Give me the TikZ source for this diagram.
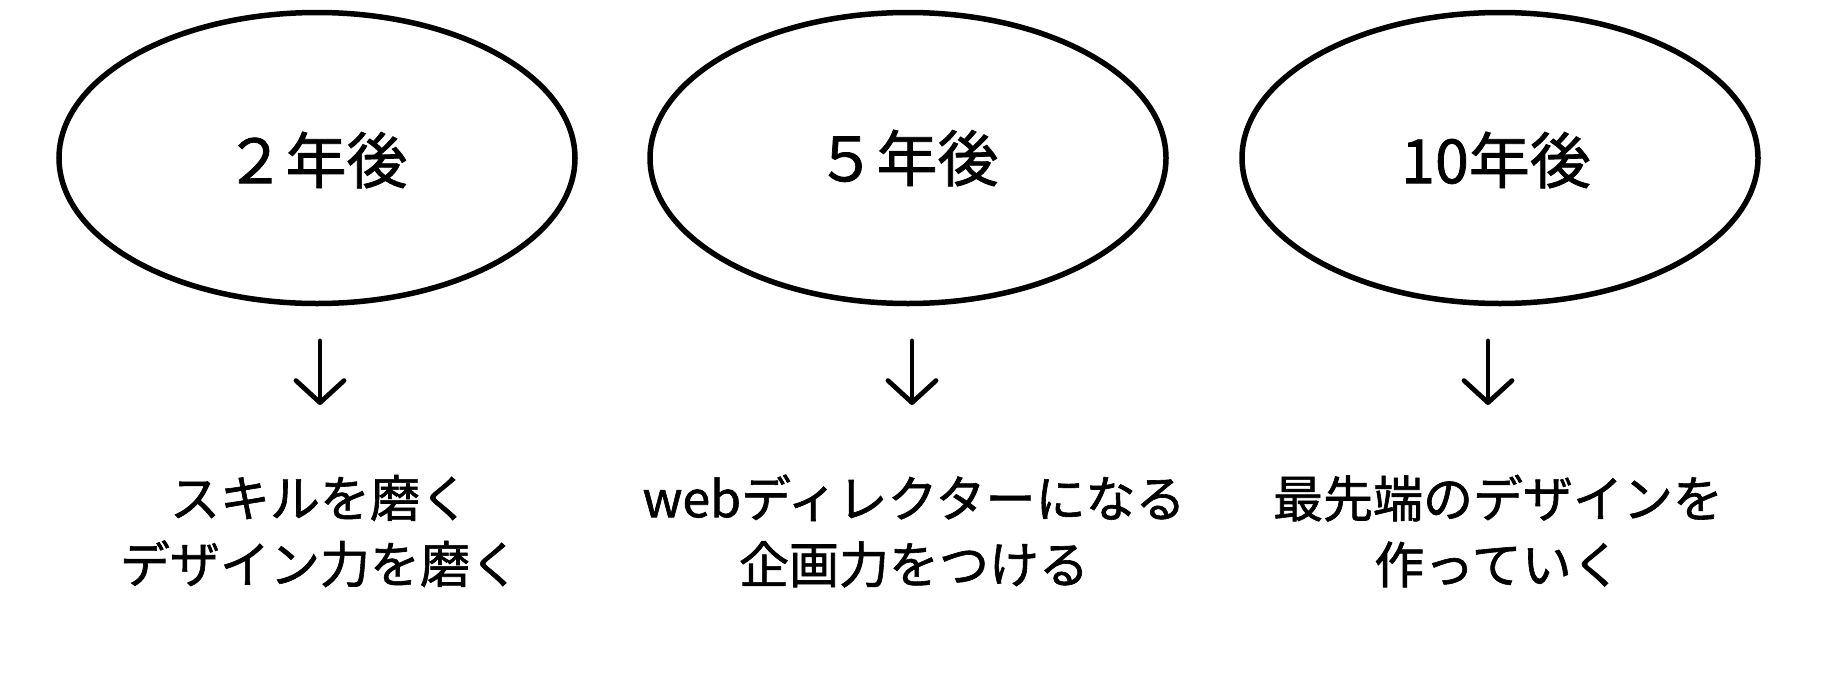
\documentclass[tikz,border=0pt]{standalone}
\usepackage{fontspec}
\setmainfont{Noto Sans CJK JP}
\newfontfamily\medfont[FakeBold=1.2]{Noto Sans CJK JP}
\usetikzlibrary{arrows.meta,shapes.geometric}
\begin{document}
\begin{tikzpicture}[x=1pt,y=-1pt,
  oval/.style={draw=black,line width=5.5pt,ellipse,minimum width=516pt,minimum height=291pt,inner sep=0pt},
  big/.style={font=\medfont\fontsize{61}{70}\selectfont},
  desc/.style={font=\medfont\fontsize{50}{66}\selectfont,align=center,inner sep=0pt},
  down/.style={line width=4.8pt,line cap=round,-{Straight Barb[length=22pt,width=48pt,line cap=round,round]}}]
\useasboundingbox (0,0) rectangle (1824,683);
\node[oval] (e1) at (317,158) {};
\node[oval] (e2) at (908,158) {};
\node[oval] (e3) at (1500,158) {};
\node[big] (t1) at (316,160) {２年後};
\node[big] (t2) at (907,158) {５年後};
\node[big] (t3) at (1496,160) {10年後};
\coordinate (a1s) at (320,341); \coordinate (a1e) at (320,405);
\coordinate (a2s) at (912,341); \coordinate (a2e) at (912,405);
\coordinate (a3s) at (1488,341); \coordinate (a3e) at (1488,405);
\draw[down] (a1s) -- (a1e);
\draw[down] (a2s) -- (a2e);
\draw[down] (a3s) -- (a3e);
\node[desc] (d1) at (320,531) {スキルを磨く\\デザイン力を磨く};
\node[desc] (d2) at (914,531) {webディレクターになる\\企画力をつける};
\node[desc] (d3) at (1498,531) {最先端のデザインを\\作っていく};
\end{tikzpicture}
\end{document}
